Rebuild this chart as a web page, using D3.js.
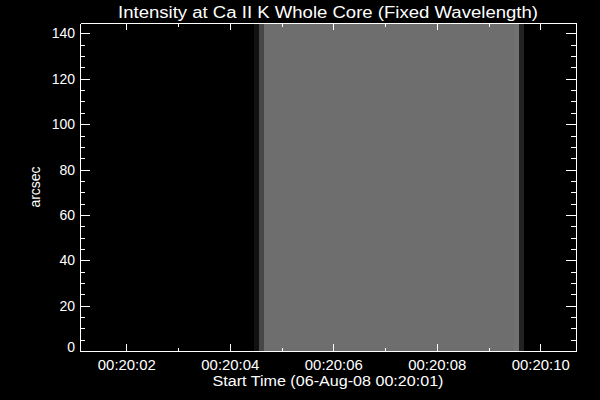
<!DOCTYPE html>
<html>
<head>
<meta charset="utf-8">
<script src="https://cdn.jsdelivr.net/npm/d3@7"></script>
<style>
  html, body { margin: 0; padding: 0; background: #000; }
  svg { display: block; }
  text { font-family: "Liberation Sans", Arial, sans-serif; fill: #fff; }
</style>
</head>
<body>
<div id="chart"></div>
<script>
// ---- data (times in seconds after 00:20:00, 06-Aug-08) ----
const chartTitle = "Intensity at Ca II K Whole Core (Fixed Wavelength)";
const xTitle = "Start Time (06-Aug-08 00:20:01)";
const yTitle = "arcsec";
const timeRange = [1.105, 10.69];          // seconds after 00:20:00
const yRange = [0, 144.6];                 // arcsec
// image columns: start time of each column (seconds) and its intensity (0-255)
const columnStarts = [1.105, 4.467, 4.563, 4.660, 9.493, 9.590, 9.687];
const columnIntensity = [0, 17, 71, 110, 113, 34, 0];
const xMajorTicks = [2, 4, 6, 8, 10];
const xMinorTicks = [3, 5, 7, 9];
const yMajorTicks = [0, 20, 40, 60, 80, 100, 120, 140];
const yMinorTicks = d3.range(5, 145, 5).filter(v => v % 20 !== 0);

// ---- layout ----
const W = 600, H = 400;
const mLeft = 80, mRight = 576, mTop = 23, mBottom = 351;

const svg = d3.select("#chart").append("svg")
  .attr("width", W).attr("height", H)
  .style("background", "#000");

svg.append("rect").attr("width", W).attr("height", H).attr("fill", "#000");

const x = d3.scaleLinear().domain(timeRange).range([mLeft, mRight]);
const y = d3.scaleLinear().domain(yRange).range([mBottom, mTop]);
const gray = d3.scaleLinear().domain([0, 255]).range(["#000000", "#ffffff"]);

// image columns
const cols = columnStarts.map((t, i) => ({
  t0: t,
  t1: i < columnStarts.length - 1 ? columnStarts[i + 1] : timeRange[1],
  v: columnIntensity[i]
}));
svg.append("g").selectAll("rect").data(cols).join("rect")
  .attr("x", d => x(d.t0))
  .attr("width", d => x(d.t1) - x(d.t0))
  .attr("y", y(yRange[1]))
  .attr("height", y(yRange[0]) - y(yRange[1]))
  .attr("fill", d => gray(d.v))
  .attr("shape-rendering", "crispEdges");

const fmt = s => "00:20:" + String(s).padStart(2, "0");

function styleAxis(g) {
  g.selectAll("path, line").attr("stroke", "#fff").attr("shape-rendering", "crispEdges");
  g.selectAll("text").attr("fill", "#fff").attr("font-size", 14)
    .style("font-family", "'Liberation Sans', Arial, sans-serif");
}

// bottom axis
svg.append("g").attr("transform", `translate(0,${mBottom})`)
  .call(d3.axisBottom(x).tickValues(xMajorTicks).tickFormat(fmt)
    .tickSizeInner(-7).tickSizeOuter(0).tickPadding(9))
  .call(styleAxis)
  .call(g => g.selectAll("text").attr("textLength", 58).attr("lengthAdjust", "spacingAndGlyphs"));
svg.append("g").attr("transform", `translate(0,${mBottom})`)
  .call(d3.axisBottom(x).tickValues(xMinorTicks).tickFormat("")
    .tickSizeInner(-3.5).tickSizeOuter(0))
  .call(styleAxis).call(g => g.select(".domain").remove());

// top axis
svg.append("g").attr("transform", `translate(0,${mTop})`)
  .call(d3.axisTop(x).tickValues(xMajorTicks).tickFormat("")
    .tickSizeInner(-7).tickSizeOuter(0))
  .call(styleAxis);
svg.append("g").attr("transform", `translate(0,${mTop})`)
  .call(d3.axisTop(x).tickValues(xMinorTicks).tickFormat("")
    .tickSizeInner(-3.5).tickSizeOuter(0))
  .call(styleAxis).call(g => g.select(".domain").remove());

// left axis
svg.append("g").attr("transform", `translate(${mLeft},0)`)
  .call(d3.axisLeft(y).tickValues(yMajorTicks).tickFormat(d3.format("d"))
    .tickSizeInner(-10).tickSizeOuter(0).tickPadding(5))
  .call(styleAxis)
  .call(g => g.selectAll(".tick text").filter(d => d === 0).attr("dy", "0.02em"));
svg.append("g").attr("transform", `translate(${mLeft},0)`)
  .call(d3.axisLeft(y).tickValues(yMinorTicks).tickFormat("")
    .tickSizeInner(-5).tickSizeOuter(0))
  .call(styleAxis).call(g => g.select(".domain").remove());

// right axis
svg.append("g").attr("transform", `translate(${mRight},0)`)
  .call(d3.axisRight(y).tickValues(yMajorTicks).tickFormat("")
    .tickSizeInner(-10).tickSizeOuter(0))
  .call(styleAxis);
svg.append("g").attr("transform", `translate(${mRight},0)`)
  .call(d3.axisRight(y).tickValues(yMinorTicks).tickFormat("")
    .tickSizeInner(-5).tickSizeOuter(0))
  .call(styleAxis).call(g => g.select(".domain").remove());

// titles
svg.append("text")
  .attr("x", (mLeft + mRight) / 2).attr("y", 18)
  .attr("text-anchor", "middle").attr("font-size", 16)
  .attr("textLength", 420).attr("lengthAdjust", "spacingAndGlyphs")
  .text(chartTitle);

svg.append("text")
  .attr("x", (mLeft + mRight) / 2).attr("y", 386)
  .attr("text-anchor", "middle").attr("font-size", 14)
  .attr("textLength", 231).attr("lengthAdjust", "spacingAndGlyphs")
  .text(xTitle);

svg.append("text")
  .attr("transform", `translate(40,${(mTop + mBottom) / 2}) rotate(-90)`)
  .attr("text-anchor", "middle").attr("font-size", 14)
  .text(yTitle);
</script>
</body>
</html>
